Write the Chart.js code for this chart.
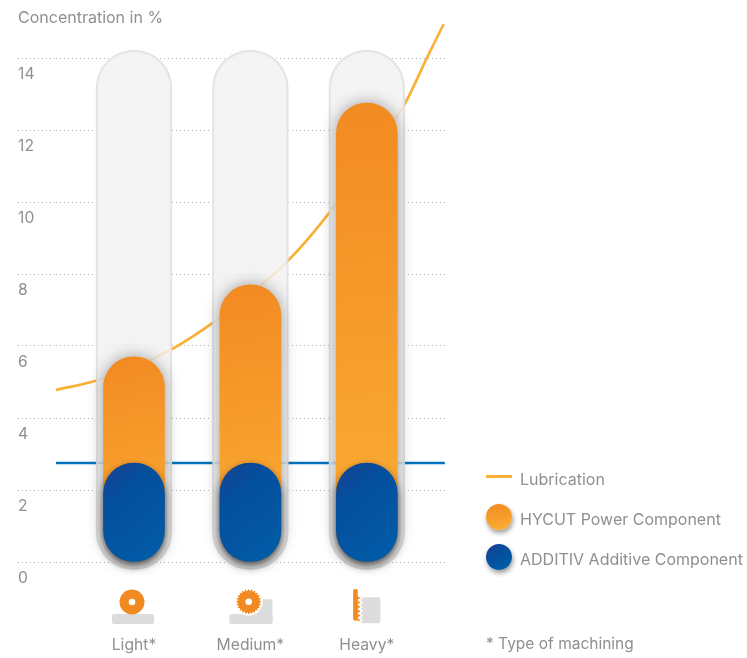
<!DOCTYPE html>
<html>
<head>
<meta charset="utf-8">
<title>Concentration in %</title>
<script src="https://cdn.jsdelivr.net/npm/chart.js@4"></script>
<style>
    html, body { margin: 0; padding: 0; background: #fff; }
    #wrap { position: relative; width: 747px; height: 658px; overflow: hidden; font-family: Inter, "Liberation Sans", sans-serif; font-size: 16px; color: #8f8f8f; }
    #chart { position: absolute; left: 0; top: 0; }
    .txt { position: absolute; white-space: nowrap; line-height: 20px; }
    .dot { position: absolute; width: 26px; height: 26px; border-radius: 50%; left: 486px; box-shadow: 1px 3px 5px rgba(0,0,0,.4); }
    .dash { position: absolute; left: 486px; top: 475px; width: 26px; height: 2.5px; background: #fbb034; }
</style>
</head>
<body>
<div id="wrap">
    <canvas id="chart" width="747" height="658"></canvas>
    <div class="txt" style="left:18px;top:7px">Concentration in %</div>
    <div class="dash"></div>
    <div class="txt" style="left:520px;top:469px">Lubrication</div>
    <div class="dot" style="top:504px;background:linear-gradient(170deg,#f28a22,#fbb034)"></div>
    <div class="txt" style="left:520px;top:509px">HYCUT Power Component</div>
    <div class="dot" style="top:544px;background:linear-gradient(150deg,#1f3f92,#03509e 45%,#0060ac)"></div>
    <div class="txt" style="left:520px;top:549px">ADDITIV Additive Component</div>
    <div class="txt" style="left:486px;top:634px;font-size:15.5px">* Type of machining</div>
</div>
<script>
// valores
const categories = ['Light*', 'Medium*', 'Heavy*'];
const categoryPos = [1, 2, 3];
const yTicks = [0, 2, 4, 6, 8, 10, 12, 14];
const hycutValues = [5.7, 7.7, 12.75];
const additivValues = [2.75, 2.75, 2.75];
const trackRange = [-0.22, 14.22];
const lubricationX = [0.33, 0.665, 1, 1.33, 1.71, 2, 2.33, 2.67, 3, 3.33, 3.52, 3.66];
const lubricationY = [4.78, 5.03, 5.42, 5.92, 6.72, 7.44, 8.39, 9.67, 11.17, 12.75, 14.03, 14.94];
const baselineX = [0.33, 3.67];
const baselineY = [2.75, 2.75];

const ORANGE = '#f28a22';
const GREY = '#dcdcdc';

function barGradient(context, stops, slant) {
    if (context.dataIndex === undefined) return stops[0];
    const chart = context.chart;
    const item = context.dataset.data[context.dataIndex];
    const cx = chart.scales.x.getPixelForValue(item.x);
    const y0 = chart.scales.y.getPixelForValue(item.y);
    const y1 = chart.scales.y.getPixelForValue(0);
    // las escalas aun no tienen tamaño en la primera pasada
    if (![cx, y0, y1].every(Number.isFinite)) return stops[0];
    const g = chart.ctx.createLinearGradient(cx - slant, y0, cx + slant, y1);
    stops.forEach((color, i) => g.addColorStop(i / (stops.length - 1), color));
    return g;
}

// sombra de las barras
const shadowPlugin = {
    id: 'barShadow',
    beforeDatasetDraw(chart, args) {
        const s = chart.data.datasets[args.index].shadow;
        if (!s) return;
        const ctx = chart.ctx;
        ctx.save();
        ctx.shadowColor = s.color;
        ctx.shadowBlur = s.blur;
        ctx.shadowOffsetY = s.y;
    },
    afterDatasetDraw(chart, args) {
        if (chart.data.datasets[args.index].shadow) chart.ctx.restore();
    }
};

function roundBlock(ctx, x, y, w, h) {
    ctx.beginPath();
    ctx.roundRect(x, y, w, h, 2);
    ctx.fill();
}

function drawLight(ctx, cx) {
    ctx.fillStyle = GREY;
    roundBlock(ctx, cx - 22, 614, 42, 10);
    ctx.fillStyle = ORANGE;
    ctx.beginPath();
    ctx.arc(cx - 2, 602, 12.5, 0, Math.PI * 2);
    ctx.fill();
    ctx.fillStyle = '#fff';
    ctx.beginPath();
    ctx.arc(cx - 2, 602, 3.3, 0, Math.PI * 2);
    ctx.fill();
}

function drawMedium(ctx, cx) {
    const gx = cx - 1.7, gy = 601.7;
    ctx.fillStyle = GREY;
    roundBlock(ctx, cx - 21, 614, 43, 10);
    roundBlock(ctx, cx - 2, 599.3, 24, 24.7);
    ctx.fillStyle = '#fff';
    ctx.beginPath();
    ctx.arc(gx, gy, 14, 0, Math.PI * 2);
    ctx.fill();
    ctx.fillStyle = ORANGE;
    ctx.beginPath();
    for (let i = 0; i < 48; i++) {
        const r = i % 2 ? 10.6 : 12.8;
        const a = i * Math.PI / 24;
        ctx.lineTo(gx + r * Math.cos(a), gy + r * Math.sin(a));
    }
    ctx.closePath();
    ctx.fill();
    ctx.fillStyle = '#fff';
    ctx.beginPath();
    ctx.arc(gx, gy, 3.3, 0, Math.PI * 2);
    ctx.fill();
}

function drawHeavy(ctx, cx) {
    ctx.fillStyle = GREY;
    roundBlock(ctx, cx - 6, 597.3, 19.5, 26);
    ctx.fillStyle = ORANGE;
    roundBlock(ctx, cx - 13.7, 589, 4.7, 31.7);
    for (let y = 598; y < 620; y += 4.4) {
        ctx.fillStyle = '#fff';
        ctx.beginPath();
        ctx.moveTo(cx - 6.5, y - 2.2);
        ctx.lineTo(cx - 3.5, y);
        ctx.lineTo(cx - 6.5, y + 2.2);
        ctx.fill();
        ctx.fillStyle = ORANGE;
        ctx.beginPath();
        ctx.moveTo(cx - 9.2, y - 1.6);
        ctx.lineTo(cx - 6, y);
        ctx.lineTo(cx - 9.2, y + 1.6);
        ctx.fill();
    }
}

// iconos de mecanizado bajo cada barra
const iconPlugin = {
    id: 'machiningIcons',
    afterDraw(chart) {
        const ctx = chart.ctx;
        const x = chart.scales.x;
        ctx.save();
        drawLight(ctx, x.getPixelForValue(categoryPos[0]));
        drawMedium(ctx, x.getPixelForValue(categoryPos[1]));
        drawHeavy(ctx, x.getPixelForValue(categoryPos[2]));
        ctx.restore();
    }
};

const tickFont = { family: 'Inter, "Liberation Sans", sans-serif', size: 15.7 };

new Chart(document.getElementById('chart'), {
    data: {
        datasets: [
            {
                type: 'line',
                label: 'Lubrication',
                data: lubricationX.map((x, i) => ({ x, y: lubricationY[i] })),
                borderColor: '#fbb034',
                borderWidth: 2.6,
                pointRadius: 0,
                cubicInterpolationMode: 'monotone',
                clip: false,
                order: 4
            },
            {
                type: 'line',
                label: 'Baseline',
                data: baselineX.map((x, i) => ({ x, y: baselineY[i] })),
                borderColor: '#0072bc',
                borderWidth: 2.6,
                pointRadius: 0,
                order: 3
            },
            {
                type: 'bar',
                label: 'Track',
                data: categoryPos.map(x => ({ x, y: trackRange })),
                backgroundColor: 'rgba(242,242,242,0.84)',
                borderColor: 'rgba(224,224,224,0.9)',
                borderWidth: 2,
                borderSkipped: false,
                borderRadius: 38,
                barThickness: 76,
                grouped: false,
                order: 2
            },
            {
                type: 'bar',
                label: 'HYCUT Power Component',
                data: categoryPos.map((x, i) => ({ x, y: hycutValues[i] })),
                backgroundColor: c => barGradient(c, ['#f28a22', '#fbae35'], 25),
                borderSkipped: false,
                borderRadius: 30.5,
                barThickness: 61,
                grouped: false,
                shadow: { color: 'rgba(0,0,0,0.36)', blur: 16, y: 0 },
                order: 1
            },
            {
                type: 'bar',
                label: 'ADDITIV Additive Component',
                data: categoryPos.map((x, i) => ({ x, y: additivValues[i] })),
                backgroundColor: c => barGradient(c, ['#1b3f90', '#03509e', '#0356a3', '#0060ac'], 40),
                borderSkipped: false,
                borderRadius: 30.5,
                barThickness: 61,
                grouped: false,
                shadow: { color: 'rgba(0,0,0,0.6)', blur: 8, y: 4 },
                order: 0
            }
        ]
    },
    options: {
        responsive: false,
        animation: false,
        events: [],
        layout: { padding: { left: 18, right: 301, top: 22, bottom: 0 } },
        plugins: { legend: { display: false }, tooltip: { enabled: false } },
        scales: {
            x: {
                type: 'linear',
                offset: false,
                min: 0.33,
                max: 3.68,
                afterBuildTicks: s => { s.ticks = categoryPos.map(value => ({ value })); },
                afterFit: s => { s.height = 78; },
                grid: { display: false },
                border: { display: false },
                ticks: {
                    callback: v => categories[v - 1],
                    color: '#8f8f8f',
                    font: tickFont,
                    padding: 48,
                    maxRotation: 0
                }
            },
            y: {
                min: -0.5,
                max: 15,
                afterBuildTicks: s => { s.ticks = yTicks.map(value => ({ value })); },
                afterFit: s => { s.width = 38; },
                border: { display: false, dash: [1, 3] },
                grid: {
                    color: '#b4b4b4',
                    lineWidth: 1,
                    drawTicks: true,
                    tickLength: 38,
                    tickColor: '#b4b4b4',
                    tickBorderDash: [1, 3],
                    tickWidth: 1
                },
                ticks: {
                    color: '#8f8f8f',
                    font: tickFont,
                    crossAlign: 'far',
                    labelOffset: 16.5
                }
            }
        }
    },
    plugins: [shadowPlugin, iconPlugin]
});
</script>
</body>
</html>
